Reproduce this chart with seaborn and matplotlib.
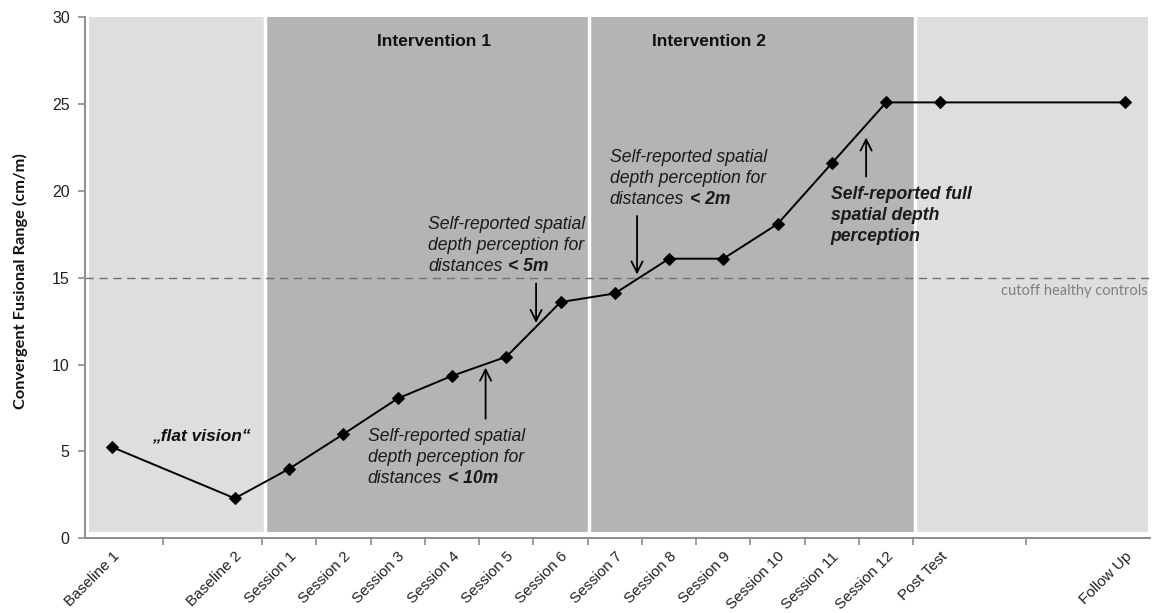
import pandas as pd
import numpy as np
import matplotlib.pyplot as plt
import seaborn as sns

# Data
labels = ["Baseline 1", "Baseline 2", "Session 1", "Session 2", "Session 3", "Session 4",
          "Session 5", "Session 6", "Session 7", "Session 8", "Session 9", "Session 10",
          "Session 11", "Session 12", "Post Test", "Follow Up"]
timeline = [-2.26, 0, 1, 2, 3, 4, 5, 6, 7, 8, 9, 10, 11, 12, 13, 16.4]
cfr = [5.25, 2.3, 4.0, 6.0, 8.05, 9.35, 10.45, 13.6, 14.1, 16.1, 16.1, 18.1, 21.6, 25.1, 25.1, 25.1]
cutoff = 15

phase_names = ["", "Intervention 1", "Intervention 2", ""]
phase_edges = [-2.68, 0.55, 6.53, 12.53, 16.82]
phase_colors = ["#dedede", "#b4b4b4", "#b4b4b4", "#dedede"]

axis_ticks = [-1.33] + [k + 0.5 for k in range(13)] + [14.57]

df = pd.DataFrame({"time": timeline, "cfr": cfr})

sns.set_theme(style="white")
plt.rcParams["font.family"] = ["Liberation Sans", "DejaVu Sans"]

fig, ax = plt.subplots(figsize=(11.53, 6.13), dpi=100)
fig.subplots_adjust(left=85 / 1153, right=1150 / 1153, top=1 - 17.3 / 613, bottom=1 - 538.3 / 613)

# shaded phases
for i in range(len(phase_colors)):
    ax.fill_between([phase_edges[i], phase_edges[i + 1]], 0.36, 30,
                    color=phase_colors[i], lw=0, zorder=0)
for e in phase_edges[1:-1]:
    ax.axvline(e, color="white", lw=2.5, zorder=0.5)

ax.text(3.67, 28.6, phase_names[1], ha="center", va="center", fontsize=12.5, fontweight="bold", color="#111111")
ax.text(8.73, 28.6, phase_names[2], ha="center", va="center", fontsize=12.5, fontweight="bold", color="#111111")

# cutoff line
ax.axhline(cutoff, color="#707070", lw=1, ls=(0, (6, 4)), zorder=1)
ax.text(16.82, 14.23, "cutoff healthy controls", ha="right", va="center", fontsize=10.5,
        color="#808080", family=["Lato", "DejaVu Sans"])

sns.lineplot(data=df, x="time", y="cfr", marker="D", markersize=6.5, color="black",
             linewidth=1.4, markeredgecolor="black", ax=ax, zorder=3)

# annotations
ax.text(-0.62, 5.9, "\u201eflat vision\u201c", ha="center", va="center", fontsize=12.5,
        fontweight="bold", style="italic", color="#111111")

notes = [
    (2.45, 5.86, ["Self-reported spatial", "depth perception for", "distances"], "< 10m", 4.62, 6.88, 9.83),
    (3.56, 18.08, ["Self-reported spatial", "depth perception for", "distances"], "< 5m", 5.55, 14.67, 12.4),
    (6.91, 21.93, ["Self-reported spatial", "depth perception for", "distances"], "< 2m", 7.41, 18.56, 15.19),
]
for x, y, lines, tail, ax_x, a_from, a_to in notes:
    t = None
    for j, line in enumerate(lines):
        t = ax.text(x, y - j * 1.22, line, ha="left", va="center", fontsize=12.7,
                    style="italic", color="#1a1a1a")
    ax.annotate(tail, xy=(1, 0.5), xycoords=t, xytext=(4, 0), textcoords="offset points",
                ha="left", va="center", fontsize=12.7, style="italic", fontweight="bold",
                color="#1a1a1a")
    ax.annotate("", xy=(ax_x, a_to), xytext=(ax_x, a_from),
                arrowprops=dict(arrowstyle="->", lw=1.3, color="black", mutation_scale=20,
                                shrinkA=0, shrinkB=0))

for j, line in enumerate(["Self-reported full", "spatial depth", "perception"]):
    ax.text(10.98, 19.81 - j * 1.22, line, ha="left", va="center", fontsize=12.7,
            style="italic", fontweight="bold", color="#1a1a1a")
ax.annotate("", xy=(11.63, 23.08), xytext=(11.63, 20.83),
            arrowprops=dict(arrowstyle="->", lw=1.3, color="black", mutation_scale=20,
                            shrinkA=0, shrinkB=0))

# axes
ax.set_xlim(-2.76, 16.86)
ax.set_ylim(0, 30)
ax.set_yticks(range(0, 31, 5))
ax.set_xticks(axis_ticks)
ax.set_xticklabels([])
ax.set_xticks(timeline, minor=True)
ax.set_xticklabels(labels, minor=True, rotation=45, ha="right", va="top",
                   rotation_mode="anchor", fontsize=11, color="#222222")
ax.tick_params(axis="x", which="major", direction="out", length=5, width=1.2, color="#8c8c8c", bottom=True)
ax.tick_params(axis="x", which="minor", length=0, pad=8, bottom=True)
ax.tick_params(axis="y", direction="out", length=5, width=1.2, color="#8c8c8c", left=True,
               labelsize=11.5, labelcolor="#222222", pad=6)
for s in ["top", "right"]:
    ax.spines[s].set_visible(False)
for s in ["left", "bottom"]:
    ax.spines[s].set_color("#8c8c8c")
    ax.spines[s].set_linewidth(1.4)
ax.set_xlabel("")
ax.set_ylabel("")
fig.text(20 / 1153, 1 - 281 / 613, "Convergent Fusional Range (cm/m)", rotation=90,
         ha="center", va="center", fontsize=11.8, fontweight="bold", color="#111111",
         family=["Lato", "DejaVu Sans"])

fig.savefig("out.png", dpi=100)
